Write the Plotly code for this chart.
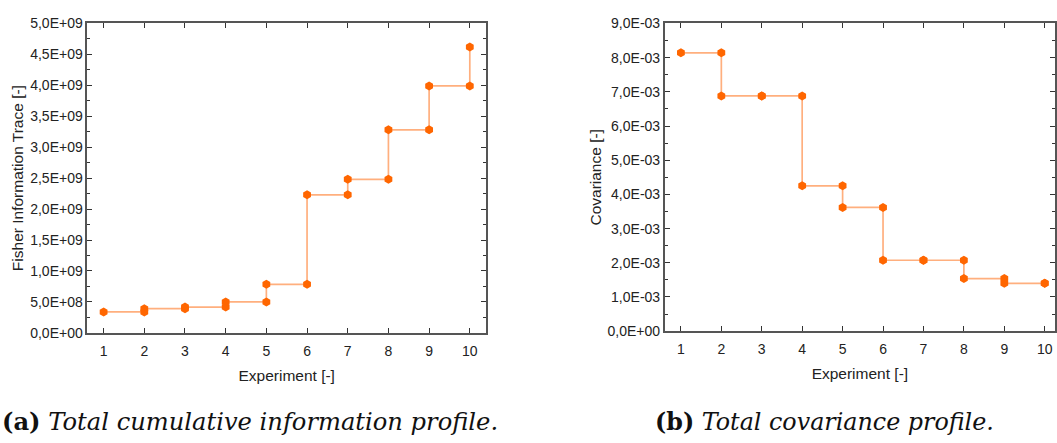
import plotly.graph_objects as go

# ---- data ----
experiments = [1, 2, 3, 4, 5, 6, 7, 8, 9, 10]
fisher_trace = [3.38e8, 3.90e8, 4.16e8, 5.00e8, 7.84e8, 2.23e9, 2.48e9, 3.28e9, 3.99e9, 4.62e9]
covariance = [8.14e-3, 6.88e-3, 6.88e-3, 4.25e-3, 3.62e-3, 2.075e-3, 2.075e-3, 1.54e-3, 1.40e-3, 1.40e-3]

fisher_ticks = [0, 5e8, 1e9, 1.5e9, 2e9, 2.5e9, 3e9, 3.5e9, 4e9, 4.5e9, 5e9]
cov_ticks = [0, 1e-3, 2e-3, 3e-3, 4e-3, 5e-3, 6e-3, 7e-3, 8e-3, 9e-3]

W, H = 1057, 443
MARK = "#FF6600"
LINE = "rgba(255,110,20,0.55)"
AX = "#555555"
FONT = "Liberation Sans, Arial, sans-serif"


def fmt(v):
    s = "{:.1E}".format(v)  # e.g. 5.0E+09
    return s.replace(".", ",")


def step_points(xs, ys):
    # markers at each data point and at the step corner before the next one
    px, py = [], []
    for i, (x, y) in enumerate(zip(xs, ys)):
        px.append(x)
        py.append(y)
        if i + 1 < len(xs):
            px.append(xs[i + 1])
            py.append(y)
    return px, py


fig = go.Figure()

for k, vals in enumerate([fisher_trace, covariance]):
    xa = "x" if k == 0 else "x2"
    ya = "y" if k == 0 else "y2"
    fig.add_trace(go.Scatter(x=experiments, y=vals, mode="lines",
                             line=dict(color=LINE, width=1.7, shape="hv"),
                             xaxis=xa, yaxis=ya, showlegend=False, hoverinfo="skip"))
    mx, my = step_points(experiments, vals)
    fig.add_trace(go.Scatter(x=mx, y=my, mode="markers",
                             marker=dict(color=MARK, size=9, symbol="hexagon"),
                             xaxis=xa, yaxis=ya, showlegend=False))

common_axis = dict(showline=True, linecolor=AX, linewidth=1.6, mirror="ticks",
                   ticks="inside", ticklen=5, tickwidth=1.2, tickcolor="#333333",
                   showgrid=False, zeroline=False,
                   tickfont=dict(family=FONT, size=14, color="#222222"))

ybot = (H - 337) / H
ytop = (H - 16) / H
ybot2 = (H - 335.3) / H

fig.update_layout(
    width=W, height=H,
    margin=dict(l=0, r=0, t=0, b=0),
    paper_bgcolor="white", plot_bgcolor="white",
    font=dict(family=FONT, color="#222222"),
    xaxis=dict(domain=[87.5 / W, 487 / W], range=[0.6, 10.4],
               tickvals=experiments, ticktext=[str(e) for e in experiments],
               ticklabelstandoff=5,
               title=dict(text="Experiment [-]", font=dict(family=FONT, size=15.5), standoff=12),
               anchor="y", **common_axis),
    yaxis=dict(domain=[ybot, ytop], range=[0, 5e9],
               tickvals=fisher_ticks, ticktext=[fmt(v) for v in fisher_ticks],
               minor=dict(ticks="inside", ticklen=3, tickcolor="#333333", tickwidth=1, dtick=2.5e8, tick0=0),
               title=dict(text="Fisher Information Trace [-]", font=dict(family=FONT, size=15.5), standoff=3),
               anchor="x", **common_axis),
    xaxis2=dict(domain=[666 / W, 1.0], range=[0.6, 10.254],
                tickvals=experiments, ticktext=[str(e) for e in experiments],
                ticklabelstandoff=4,
                title=dict(text="Experiment [-]", font=dict(family=FONT, size=15.5), standoff=12),
                anchor="y2", **common_axis),
    yaxis2=dict(domain=[ybot2, ytop], range=[0, 9e-3],
                tickvals=cov_ticks, ticktext=[fmt(v) for v in cov_ticks],
                minor=dict(ticks="inside", ticklen=3, tickcolor="#333333", tickwidth=1, dtick=5e-4, tick0=0),
                title=dict(text="Covariance [-]", font=dict(family=FONT, size=15.5), standoff=2),
                anchor="x2", **common_axis),
)

CAP = "DejaVu Serif, serif"
fig.add_annotation(x=0, y=(H - 429) / H, xref="paper", yref="paper",
                   xanchor="left", yanchor="middle", showarrow=False,
                   text="<b>(a)</b> <i>Total cumulative information profile.</i>",
                   font=dict(family=CAP, size=24.2, color="#111111"))
fig.add_annotation(x=654 / W, y=(H - 429) / H, xref="paper", yref="paper",
                   xanchor="left", yanchor="middle", showarrow=False,
                   text="<b>(b)</b> <i>Total covariance profile.</i>",
                   font=dict(family=CAP, size=23.8, color="#111111"))

fig.write_html("out.html")
